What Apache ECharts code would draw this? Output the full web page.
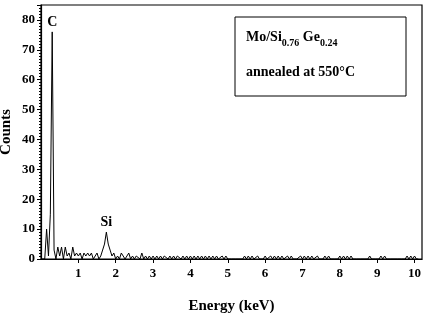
<!DOCTYPE html>
<html>
<head>
<meta charset="utf-8">
<script src="https://cdn.jsdelivr.net/npm/echarts@6/dist/echarts.min.js"></script>
<style>
  html, body { margin: 0; padding: 0; background: #fff; }
  #chart { width: 426px; height: 313px; }
</style>
</head>
<body>
<div id="chart"></div>
<script>
// spectrum sampled every 0.05 keV starting at 0 keV
const energyStart = 0;
const energyStep = 0.05;
const counts = [
  0, 0, 0, 10, 1, 15, 76, 3, 0, 4, 1, 4, 0, 4, 1, 2, 0, 4, 1, 2,
  1, 2, 0, 2, 1, 2, 1, 2, 0, 1, 2, 0, 1, 3, 5, 9, 5, 3, 1, 2,
  0, 1, 0, 2, 1, 0, 1, 2, 0, 1, 0, 1, 1, 0, 2, 0, 1, 0, 1, 0,
  1, 0, 1, 0, 1, 0, 1, 1, 0, 1, 0, 1, 0, 1, 1, 0, 1, 0, 1, 0,
  1, 0, 1, 0, 1, 0, 1, 0, 1, 0, 1, 0, 1, 0, 1, 0, 0, 1, 0, 1,
  0, 0, 0, 0, 0, 0, 0, 0, 0, 1, 0, 1, 0, 1, 0, 0, 1, 0, 0, 0,
  1, 0, 0, 1, 0, 1, 0, 1, 0, 1, 0, 0, 1, 0, 1, 0, 0, 0, 0, 1,
  0, 1, 0, 1, 0, 1, 0, 0, 1, 0, 0, 0, 1, 0, 1, 0, 0, 0, 0, 0,
  1, 0, 1, 0, 1, 0, 1, 0, 0, 0, 0, 0, 0, 0, 0, 0, 1, 0, 0, 0,
  0, 0, 1, 0, 1, 0, 0, 0, 0, 0, 0, 0, 0, 0, 0, 0, 1, 0, 1, 0,
  1, 0, 0
];
// peak labels
const peakNames = ['C', 'Si'];
const peakEnergies = [0.30, 1.75];
const peakCounts = [76, 9];

const serif = '"Liberation Serif", "DejaVu Serif", serif';

const lineData = counts.map((c, i) => [+(energyStart + i * energyStep).toFixed(2), c]);

const chart = echarts.init(document.getElementById('chart'));
chart.setOption({
  backgroundColor: '#fff',
  animation: false,
  grid: {
    left: 41, right: 4, top: 5, bottom: 54,
    outerBoundsMode: 'none',
    containLabel: false,
    show: true, borderColor: '#000', borderWidth: 1.2
  },
  xAxis: {
    type: 'value',
    min: 0, max: 10.2, interval: 1,
    name: 'Energy (keV)',
    nameLocation: 'middle',
    nameGap: 40,
    nameMoveOverlap: false,
    nameTextStyle: { fontFamily: serif, fontWeight: 'bold', fontSize: 15, color: '#000' },
    axisLine: { lineStyle: { color: '#000', width: 1.2 } },
    axisTick: { show: true, length: 4, lineStyle: { color: '#000' } },
    axisLabel: {
      showMinLabel: false, showMaxLabel: false,
      margin: 8,
      fontFamily: serif, fontWeight: 'bold', fontSize: 13, color: '#000'
    },
    splitLine: { show: false }
  },
  yAxis: {
    type: 'value',
    min: 0, max: 85, interval: 10,
    name: 'Counts',
    nameLocation: 'middle',
    nameGap: 27,
    nameMoveOverlap: false,
    nameTextStyle: { fontFamily: serif, fontWeight: 'bold', fontSize: 15, color: '#000' },
    axisLine: { show: true, lineStyle: { color: '#000', width: 1.2 } },
    axisTick: { show: true, length: 4, lineStyle: { color: '#000' } },
    minorTick: { show: true, splitNumber: 10, length: 2, lineStyle: { color: '#000' } },
    axisLabel: {
      showMaxLabel: false,
      margin: 6,
      fontFamily: serif, fontWeight: 'bold', fontSize: 13, color: '#000'
    },
    splitLine: { show: false }
  },
  graphic: [
    {
      type: 'rect',
      shape: { x: 235, y: 17, width: 171, height: 79 },
      style: { fill: '#fff', stroke: '#000', lineWidth: 1 }
    },
    {
      type: 'text',
      x: 246, y: 30,
      style: {
        text: '{m|Mo/Si}{s|0.76}{m| Ge}{s|0.24}',
        rich: {
          m: { fontFamily: serif, fontWeight: 'bold', fontSize: 14, color: '#000', lineHeight: 16, verticalAlign: 'top' },
          s: { fontFamily: serif, fontWeight: 'bold', fontSize: 10, color: '#000', lineHeight: 18, verticalAlign: 'bottom' }
        }
      }
    },
    {
      type: 'text',
      x: 246, y: 65,
      style: {
        text: 'annealed at 550°C',
        fontFamily: serif, fontWeight: 'bold', fontSize: 14, fill: '#000'
      }
    }
  ],
  series: [
    {
      type: 'line',
      data: lineData,
      showSymbol: false,
      lineStyle: { color: '#000', width: 1 },
      markPoint: {
        symbol: 'circle',
        symbolSize: 0,
        label: {
          show: true, position: 'top', distance: 3,
          formatter: p => p.name,
          fontFamily: serif, fontWeight: 'bold', fontSize: 14, color: '#000'
        },
        data: peakNames.map((n, i) => ({ name: n, coord: [peakEnergies[i], peakCounts[i]] }))
      }
    }
  ]
});
</script>
</body>
</html>
